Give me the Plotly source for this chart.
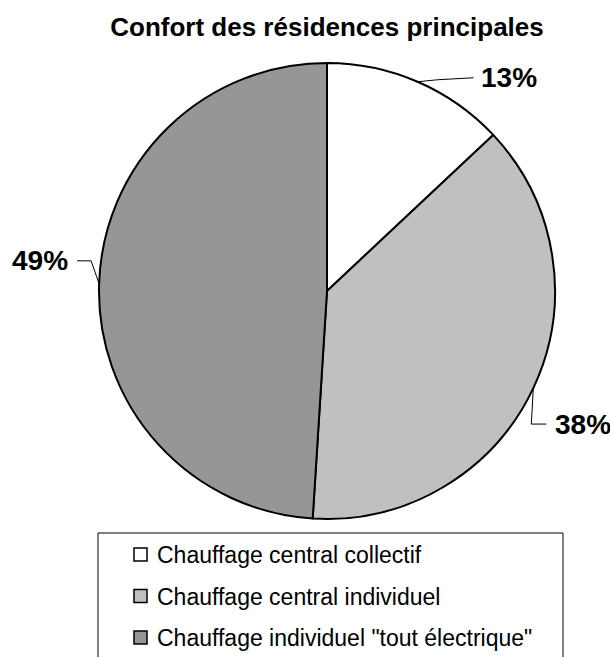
import math
import plotly.graph_objects as go

# Data
categories = [
    "Chauffage central collectif",
    "Chauffage central individuel",
    'Chauffage individuel "tout électrique"',
]
shares = [13, 38, 49]
colors = ["#FFFFFF", "#C0C0C0", "#969696"]

W, H = 610, 657
FONT = "Arial, Liberation Sans, sans-serif"

# Pie geometry (pixels)
cx, cy, r = 327, 291, 228


def px(x):
    return x / W


def py(y):
    return 1 - y / H


fig = go.Figure(
    go.Pie(
        labels=categories,
        values=shares,
        sort=False,
        direction="clockwise",
        rotation=0,
        textinfo="none",
        hoverinfo="label+percent",
        showlegend=False,
        marker=dict(colors=colors, line=dict(color="#000000", width=2)),
        domain=dict(x=[px(cx - r), px(cx + r)], y=[py(cy + r), py(cy - r)]),
    )
)

# Outside percentage labels with elbow leader lines
total = sum(shares)
cum = 0
shapes = []
annotations = []
for i, v in enumerate(shares):
    mid = (cum + v / 2) / total * 2 * math.pi
    cum += v
    ax = cx + r * math.sin(mid)
    ay = cy - r * math.cos(mid)
    right = math.sin(mid) >= 0
    if ay < cy - r * 0.6:
        # near the top: gently rising line
        ex, ey = ax + 20, ay - 2
        hx, hy = ax + 56, ay - 4
        gap = 5
    elif ay > cy:
        # lower right: drop down, then go right
        ex, ey = ax - 2, ay + 36
        hx, hy = ax + 13, ay + 36
        gap = 7
    else:
        # left side: climb up, then go left
        ex, ey = ax - 8, ay - 23
        hx, hy = ax - 22, ay - 23
        gap = 7
    path = f"M {px(ax)},{py(ay)} L {px(ex)},{py(ey)} L {px(hx)},{py(hy)}"
    shapes.append(dict(type="path", xref="paper", yref="paper", path=path,
                       line=dict(color="#000000", width=1)))
    annotations.append(dict(
        x=px(hx + (gap if right else -gap)), y=py(hy), xref="paper", yref="paper",
        text=f"<b>{v}%</b>", showarrow=False,
        xanchor="left" if right else "right", yanchor="middle",
        font=dict(family=FONT, size=28, color="#000000"),
    ))

# Legend: frame, swatches and labels
shapes.append(dict(type="rect", xref="paper", yref="paper",
                   x0=px(98), x1=px(563), y0=py(665), y1=py(533),
                   line=dict(color="#000000", width=1), fillcolor="rgba(0,0,0,0)"))
row0, row_step = 555, 41.5
for i, (name, col) in enumerate(zip(categories, colors)):
    yc = row0 + i * row_step
    shapes.append(dict(type="rect", xref="paper", yref="paper",
                       x0=px(134), x1=px(147), y0=py(yc + 6), y1=py(yc - 7),
                       line=dict(color="#000000", width=1.5), fillcolor=col))
    annotations.append(dict(
        x=px(155), y=py(yc), xref="paper", yref="paper",
        text=name, showarrow=False, xanchor="left", yanchor="middle",
        font=dict(family=FONT, size=23, color="#000000"),
    ))

fig.update_layout(
    width=W,
    height=H,
    margin=dict(l=0, r=0, t=0, b=0),
    paper_bgcolor="#FFFFFF",
    plot_bgcolor="#FFFFFF",
    title=dict(
        text="<b>Confort des résidences principales</b>",
        x=px(327), y=py(27), xanchor="center", yanchor="middle",
        font=dict(family=FONT, size=26, color="#000000"),
    ),
    showlegend=False,
    shapes=shapes,
    annotations=annotations,
)

fig.write_html("out.html")
